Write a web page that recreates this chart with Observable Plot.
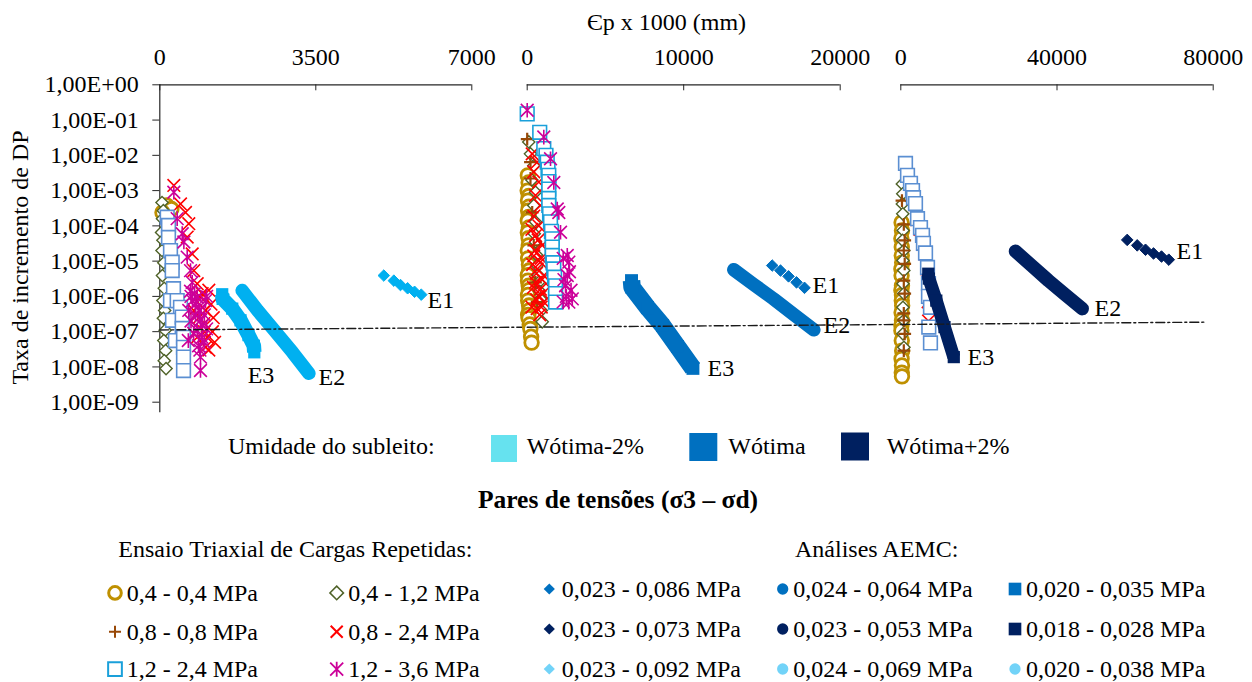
<!DOCTYPE html>
<html><head><meta charset="utf-8">
<script src="https://cdn.jsdelivr.net/npm/d3@7"></script>
<script src="https://cdn.jsdelivr.net/npm/@observablehq/plot@0.6"></script>
<style>
body{margin:0;background:#fff;}
#chart{position:relative;width:1252px;height:682px;overflow:hidden;background:#fff;font-family:"Liberation Serif",serif;}
#chart svg, #chart svg text{font-family:"Liberation Serif",serif !important;}
</style></head><body><div id="chart"></div>
<script>
const FONT = "Liberation Serif";
const AXIS = "#262626";

// ---------- axes ----------
const yTicks = [1, 1e-1, 1e-2, 1e-3, 1e-4, 1e-5, 1e-6, 1e-7, 1e-8, 1e-9];
const yTickLabels = ["1,00E+00","1,00E-01","1,00E-02","1,00E-03","1,00E-04","1,00E-05","1,00E-06","1,00E-07","1,00E-08","1,00E-09"];
const yAxisBottom = 5e-10;
const xTicks1 = [0, 3500, 7000];
const xTicks2 = [0, 10000, 20000];
const xTicks3 = [0, 40000, 80000];
const xTitle = "Єp x 1000 (mm)";
const yTitle = "Taxa de incremento de DP";

// ---------- Ensaio triaxial (x = Єp x 1000, y = taxa) ----------
// panel 1 : Wótima-2%
const p1_c04_04 = [[150,3.8e-4],[260,3.0e-4],[60,2.4e-4]];
const p1_d04_12 = [[50,4.6e-4],[80,2.7e-4],[60,1.6e-4],[40,6.5e-5],[70,3.9e-5],[50,2.0e-5],[90,9e-6],[60,3.9e-6],[100,1.7e-6],[70,7.6e-7],[110,4e-7],[80,2.4e-7],[120,1.1e-7],[90,5.6e-8],[130,2.9e-8],[100,1.5e-8],[140,9e-9]];
const p1_p08_08 = [];
const p1_x08_24 = [[315,1.4e-3],[465,4.2e-4],[577,2.4e-4],[651,1.15e-4],[615,4.8e-5],[727,1.6e-5],[763,5.4e-6],[839,2.3e-6],[950,1.2e-6],[1100,1.5e-6],[913,9.5e-7],[1150,6e-7],[960,5e-7],[763,4e-7],[1025,4e-7],[880,2.5e-7],[1200,2.5e-7],[700,2e-7],[987,1.7e-7],[1000,1e-7],[1180,1e-7],[839,6.9e-8],[1063,6.9e-8],[1230,5e-8],[1025,3.6e-8],[1100,3e-8]];
const p1_s12_24 = [[166,1.76e-4],[195,1.03e-4],[195,4.7e-5],[240,2e-5],[278,9.3e-6],[278,5.4e-6],[307,1.65e-6],[240,7.6e-7],[390,7.6e-7],[464,4.9e-7],[285,2.1e-7],[503,2.6e-7],[503,1.23e-7],[350,5.6e-8],[532,6.9e-8],[532,3.6e-8],[532,1.9e-8],[532,7.9e-9]];
const p1_a12_36 = [[315,9e-4],[390,1.6e-4],[503,6e-5],[540,3.5e-5],[615,1.3e-5],[689,5.4e-6],[727,2.5e-6],[689,1.4e-6],[780,1.2e-6],[700,1e-6],[1050,1e-6],[839,9.5e-7],[733,7.6e-7],[1025,7.6e-7],[800,6e-7],[875,4e-7],[650,4e-7],[900,4e-7],[800,3e-7],[1000,3e-7],[913,2.1e-7],[700,2e-7],[955,1.5e-7],[1050,1.2e-7],[839,1.08e-7],[760,9e-8],[950,6.9e-8],[640,5.6e-8],[1000,5e-8],[870,4e-8],[900,3e-8],[913,1.9e-8],[913,7.9e-9]];
// panel 2 : Wótima
const p2_c04_04 = [[40,2.7e-3],[90,1.7e-3],[30,1e-3],[100,7e-4],[50,5.2e-4],[110,3.5e-4],[60,2.7e-4],[100,1.8e-4],[40,1.4e-4],[110,9e-5],[40,6.5e-5],[90,4.5e-5],[100,2.8e-5],[40,2e-5],[60,1.2e-5],[110,8e-6],[120,5.4e-6],[40,4e-6],[50,2.8e-6],[100,2e-6],[110,1.5e-6],[50,1.1e-6],[60,7.6e-7],[120,5.5e-7],[130,4e-7],[60,3e-7],[90,2.4e-7],[160,1.6e-7],[200,1.2e-7],[250,7.2e-8],[280,4.9e-8]];
const p2_d04_12 = [[100,0.024],[210,0.011],[420,5.1e-3],[300,2e-3],[530,9e-4],[420,3.8e-4],[530,1.3e-4],[450,6e-5],[530,3.5e-5],[600,1.5e-5],[640,7.5e-6],[700,4e-6],[740,2.5e-6],[800,1.4e-6],[850,8.5e-7],[900,4e-7],[960,1.9e-7]];
const p2_p08_08 = [[0,0.029],[210,6.4e-3],[210,2.2e-3],[320,2.4e-4],[420,2.8e-5],[530,2.5e-6],[640,6.9e-7]];
const p2_x08_24 = [[320,0.011],[640,6.4e-3],[420,3.4e-3],[740,1.75e-3],[530,7.3e-4],[850,3.8e-4],[420,1.9e-4],[740,1e-4],[300,8e-5],[530,5.3e-5],[700,4e-5],[960,2.8e-5],[500,2e-5],[420,1.4e-5],[900,1.2e-5],[850,9.4e-6],[350,8e-6],[640,6e-6],[600,4.5e-6],[1060,3.9e-6],[950,3e-6],[530,2.5e-6],[400,1.8e-6],[850,1.6e-6],[1000,1.2e-6],[740,1.05e-6],[600,8e-7],[1060,6.9e-7],[900,5e-7],[300,5e-7],[640,4.5e-7],[800,3e-7]];
const p2_s12_24 = [[0,0.15],[800,0.045],[1060,0.0155],[1200,1e-2],[1280,6.4e-3],[1330,4e-3],[1380,2.7e-3],[1380,1.8e-3],[1380,1.1e-3],[1380,6e-4],[1380,3.8e-4],[1430,2.2e-4],[1490,1.3e-4],[1550,7e-5],[1600,4.3e-5],[1600,2.5e-5],[1600,1.45e-5],[1650,9e-6],[1700,6e-6],[1750,3.5e-6],[1810,2e-6],[1810,1.2e-6],[1810,6.9e-7]];
const p2_a12_36 = [[0,0.19],[1060,0.033],[1490,8e-3],[1700,1.7e-3],[1920,3e-4],[2020,2.4e-4],[2130,6.6e-5],[2560,1.45e-5],[2300,1.2e-5],[2660,9.4e-6],[2700,5e-6],[2560,3.9e-6],[2350,3e-6],[2450,2e-6],[2800,1.5e-6],[2500,1e-6],[2880,8.5e-7],[2660,6.9e-7],[2300,7e-7]];
// panel 3 : Wótima+2%
const p3_c04_04 = [[200,1.25e-4],[300,7.4e-5],[150,4.4e-5],[250,2.5e-5],[250,1.45e-5],[350,9.1e-6],[150,6e-6],[200,3.9e-6],[300,2e-6],[150,1.5e-6],[300,1.1e-6],[250,7.6e-7],[350,5.5e-7],[200,3.5e-7],[300,2.1e-7],[150,1.5e-7],[150,1.08e-7],[250,5.6e-8],[350,2.9e-8],[200,1.7e-8],[300,1.1e-8],[250,6.9e-9],[300,5.4e-9]];
const p3_d04_12 = [[400,1.55e-3],[500,8.1e-4],[400,4.2e-4],[500,2.2e-4],[600,7.4e-5],[450,3.9e-5],[770,2e-5],[550,1.05e-5],[770,5.4e-6],[550,2.3e-6],[770,1.2e-6],[550,4.9e-7],[770,2.1e-7],[550,8.7e-8],[800,3.6e-8]];
const p3_p08_08 = [[300,5.2e-4],[770,1.1e-4],[1000,3.9e-5],[770,2e-5],[1000,8.4e-6],[770,2.8e-6],[1000,1.2e-6],[770,3.3e-7],[770,2.1e-7],[1000,8.7e-8],[770,2.9e-8]];
const p3_x08_24 = [[1500,2.6e-3],[2300,1.5e-3],[2900,9e-4],[3600,4e-4],[4100,1.5e-4],[4900,8e-5],[5600,3e-5],[6200,1.6e-5],[6700,6e-6],[6900,2.2e-6],[7000,7e-7],[7100,2e-7],[7400,5e-8]];
const p3_s12_24 = [[1200,5.9e-3],[1720,2.7e-3],[2480,1.6e-3],[3000,1e-3],[3250,6.3e-4],[3760,4.3e-4],[4280,1.6e-4],[5040,8.9e-5],[5560,5.4e-5],[5800,3.2e-5],[6330,1.7e-5],[6840,6.6e-6],[7090,2.3e-6],[7090,1e-6],[7600,4.9e-7],[7170,1.35e-7],[7600,4.8e-8]];
const p3_a12_36 = [];

// ---------- Análises AEMC ----------
const p1_E1 = [[5026,3.9e-6],[5251,2.8e-6],[5400,2.1e-6],[5560,1.7e-6],[5716,1.35e-6],[5866,1.12e-6]];
const p1_E2 = [[1848,1.47e-6],[2193,4e-7],[2572,1.08e-7],[2978,2.6e-8],[3345,6.6e-9]];
const p1_E3 = [[1400,1.15e-6],[1410,8.5e-7],[1625,4.5e-7],[1811,2.1e-7],[1990,8e-8],[2110,4e-8],[2120,2.6e-8]];
const p2_E1 = [[15655,7.5e-6],[16185,5.4e-6],[16700,3.7e-6],[17210,2.5e-6],[17720,1.75e-6]];
const p2_E2 = [[13200,5.7e-6],[14460,2.2e-6],[15740,8.5e-7],[17020,3.1e-7],[18315,1.13e-7]];
const p2_E3 = [[6665,2.8e-6],[6700,1.8e-6],[7690,4.8e-7],[8645,1.5e-7],[9600,3.8e-8],[10590,9.1e-9]];
const p3_E1 = [[57980,4.0e-5],[60540,2.8e-5],[62670,2.1e-5],[64720,1.65e-5],[66760,1.35e-5],[68630,1.1e-5]];
const p3_E2 = [[29370,1.9e-5],[33470,7.5e-6],[37820,2.8e-6],[42180,1.1e-6],[46450,4.5e-7]];
const p3_E3 = [[7040,4.4e-6],[7200,3.2e-6],[9090,7.6e-7],[11190,1.35e-7],[13570,1.9e-8]];

// E labels [text, x, y]
const p1_labels = [["E1",6006,7.6e-7],["E2",3560,5e-9],["E3",1972,5.7e-9]];
const p2_labels = [["E1",18230,2e-6],["E2",18935,1.5e-7],["E3",11520,9.1e-9]];
const p3_labels = [["E1",70600,1.9e-5],["E2",49600,4.6e-7],["E3",17080,1.85e-8]];

// dash-dot reference line
const p1_ref = [[0,1.12e-7],[8250,1.34e-7]];
const p2_ref = [[0,1.34e-7],[23850,1.6e-7]];
const p3_ref = [[0,1.6e-7],[77700,1.86e-7]];

// ---------- legend texts ----------
const umidTitle = "Umidade do subleito:";
const umidLabels = ["Wótima-2%","Wótima","Wótima+2%"];
const paresTitle = "Pares de tensões (σ3 – σd)";
const triTitle = "Ensaio Triaxial de Cargas Repetidas:";
const triLabels = ["0,4 - 0,4 MPa","0,4 - 1,2 MPa","0,8 - 0,8 MPa","0,8 - 2,4 MPa","1,2 - 2,4 MPa","1,2 - 3,6 MPa"];
const aemcTitle = "Análises AEMC:";
const aemcLabels = ["0,023 - 0,086 MPa","0,024 - 0,064 MPa","0,020 - 0,035 MPa","0,023 - 0,073 MPa","0,023 - 0,053 MPa","0,018 - 0,028 MPa","0,023 - 0,092 MPa","0,024 - 0,069 MPa","0,020 - 0,038 MPa"];

// ---------- styles ----------
const starSymbol = {draw(ctx, size){const r=Math.sqrt(size)*0.62;ctx.moveTo(-r,-r);ctx.lineTo(r,r);ctx.moveTo(-r,r);ctx.lineTo(r,-r);ctx.moveTo(0,-r*1.15);ctx.lineTo(0,r*1.15);}};
const triSym = [
  {symbol:"circle", color:"#BF9000", r:6.8, sw:2.8, fill:"white"},
  {symbol:"diamond2", color:"#4F6228", r:5.5, sw:1.4, fill:"white"},
  {symbol:"plus", color:"#984807", r:4.2, sw:2.2, fill:"none"},
  {symbol:"times", color:"#FF0000", r:5.8, sw:1.6, fill:"none"},
  {symbol:"square2", color:null, r:8.7, sw:1.6, fill:"white"},
  {symbol:starSymbol, color:"#CC0099", r:5.8, sw:1.6, fill:"none"}
];
const umidColors = ["#66E2EF","#0070C0","#002060"];
const chart = document.getElementById("chart");
const px = d => d[0], py = d => d[1];

function drawPanel(c){
  const marks = [];
  marks.push(Plot.ruleY([1], {stroke:AXIS, strokeWidth:1.2}));
  marks.push(Plot.axisX(c.xTicks, {anchor:"top", tickSize:6, dy:5, fill:"none", stroke:AXIS, label:null}));
  marks.push(Plot.axisX(c.xTicks, {anchor:"top", tickSize:0, tickPadding:20, tickFormat:d=>String(d), fill:"#000", fontSize:24, fontFamily:FONT, label:null}));
  if (c.yAxis){
    marks.push(Plot.ruleX([0], {y1:1, y2:yAxisBottom, stroke:AXIS, strokeWidth:1.2}));
    marks.push(Plot.axisY(yTicks, {anchor:"left", tickSize:7, tickPadding:14, tickFormat:d=>yTickLabels[yTicks.indexOf(d)], stroke:AXIS, fill:"#000", fontSize:24, fontFamily:FONT, label:null}));
  }
  c.tri.forEach((arr,i)=>{
    const s = triSym[i];
    if (arr.length) marks.push(Plot.dot(arr, {x:px, y:py, symbol:s.symbol, r:s.r, stroke:s.color||c.sqColor, strokeWidth:s.sw, fill:s.fill}));
  });
  marks.push(Plot.line(c.E3, {x:px, y:py, stroke:c.aemcColor, strokeWidth:c.e3w, strokeLinecap:"butt"}));
  marks.push(Plot.dot(c.E3, {x:px, y:py, symbol:"square", r:c.e3r, fill:c.aemcColor, stroke:"none"}));
  marks.push(Plot.line(c.E2, {x:px, y:py, stroke:c.aemcColor, strokeWidth:13.5, strokeLinecap:"round", strokeLinejoin:"round"}));
  marks.push(Plot.dot(c.E1, {x:px, y:py, symbol:"diamond2", r:5.2, fill:c.aemcColor, stroke:c.aemcColor, strokeWidth:1}));
  marks.push(Plot.text(c.labels, {x:d=>d[1], y:d=>d[2], text:d=>d[0], textAnchor:"start", fontSize:24, fontFamily:FONT, fill:"#000"}));
  marks.push(Plot.line(c.ref, {x:px, y:py, stroke:"#1a1a1a", strokeWidth:1.4, strokeDasharray:"9,3,2,3"}));
  const svg = Plot.plot({
    width:c.width, height:420, marginTop:84.3, marginBottom:18.3, marginLeft:c.mL, marginRight:c.mR,
    x:{domain:c.xDomain, axis:null}, y:{type:"log", domain:[1e-9,1], axis:null},
    style:{fontFamily:FONT, fontSize:"24px", overflow:"visible", background:"transparent", color:"#000"},
    marks
  });
  svg.style.position="absolute"; svg.style.left=c.left+"px"; svg.style.top="0px";
  chart.appendChild(svg);
}

drawPanel({left:0, width:500, mL:159.3, mR:28.7, xDomain:[0,7000], xTicks:xTicks1, yAxis:true,
  tri:[p1_c04_04,p1_d04_12,p1_p08_08,p1_x08_24,p1_s12_24,p1_a12_36], sqColor:"#5B8FD2", aemcColor:"#00B0F0",
  E1:p1_E1, E2:p1_E2, E3:p1_E3, e3w:14.5, e3r:6.9, labels:p1_labels, ref:p1_ref});
drawPanel({left:500, width:360, mL:26.7, mR:20.3, xDomain:[0,20000], xTicks:xTicks2, yAxis:false,
  tri:[p2_c04_04,p2_d04_12,p2_p08_08,p2_x08_24,p2_s12_24,p2_a12_36], sqColor:"#1AA0DA", aemcColor:"#0070C0",
  E1:p2_E1, E2:p2_E2, E3:p2_E3, e3w:17.5, e3r:7.3, labels:p2_labels, ref:p2_ref});
drawPanel({left:870, width:382, mL:30.3, mR:39.3, xDomain:[0,80000], xTicks:xTicks3, yAxis:false,
  tri:[p3_c04_04,p3_d04_12,p3_p08_08,p3_x08_24,p3_s12_24,p3_a12_36], sqColor:"#5B8FD2", aemcColor:"#002060",
  E1:p3_E1, E2:p3_E2, E3:p3_E3, e3w:13, e3r:6.9, labels:p3_labels, ref:p3_ref});

// ---------- titles & legends ----------
const L = d3.create("svg").attr("width",1252).attr("height",682)
  .style("position","absolute").style("left","0px").style("top","0px").style("overflow","visible")
  .attr("font-family",FONT).attr("font-size",24).attr("fill","#000");
L.append("text").attr("x",666.5).attr("y",30).attr("text-anchor","middle").text(xTitle);
L.append("text").attr("transform","translate(28.3,257.5) rotate(-90)").attr("text-anchor","middle").text(yTitle);

L.append("text").attr("x",228).attr("y",454).text(umidTitle);
const umidSw = [[491,435,26,27],[689.3,433,28,28],[841,432.5,28,28]];
const umidTx = [526.7,728.3,886.7];
umidLabels.forEach((t,i)=>{
  L.append("rect").attr("x",umidSw[i][0]).attr("y",umidSw[i][1]).attr("width",umidSw[i][2]).attr("height",umidSw[i][3]).attr("fill",umidColors[i]);
  L.append("text").attr("x",umidTx[i]).attr("y",453.5).text(t);
});
L.append("text").attr("x",618).attr("y",508).attr("text-anchor","middle").attr("font-weight","bold").attr("font-size",25.5).text(paresTitle);

L.append("text").attr("x",118.3).attr("y",556.7).text(triTitle);
L.append("text").attr("x",795).attr("y",556.7).text(aemcTitle);

const symPath = (type,size)=>d3.symbol(type,size)();
const triLeg = [
  {t:d3.symbolCircle, size:125, stroke:"#BF9000", sw:3, fill:"none"},
  {t:d3.symbolDiamond2, size:118, stroke:"#4F6228", sw:1.5, fill:"none"},
  {t:d3.symbolPlus, size:49, stroke:"#984807", sw:2, fill:"none"},
  {t:d3.symbolTimes, size:96, stroke:"#FF0000", sw:2, fill:"none"},
  {t:d3.symbolSquare2, size:240, stroke:"#1AA0DA", sw:2, fill:"none"},
  {t:starSymbol, size:110, stroke:"#CC0099", sw:1.8, fill:"none"}
];
const triBase = [600.7,639.5,677];
triLabels.forEach((t,i)=>{
  const row = Math.floor(i/2), col = i%2;
  const sx = col ? 336.7 : 115, tx = col ? 348.3 : 126.7, b = triBase[row];
  const s = triLeg[i];
  L.append("path").attr("d",symPath(s.t,s.size)).attr("transform",`translate(${sx},${b-7.8})`)
    .attr("fill",s.fill).attr("stroke",s.stroke).attr("stroke-width",s.sw);
  L.append("text").attr("x",tx).attr("y",b).text(t);
});
const aemcLegColors = ["#0070C0","#0070C0","#0070C0","#002060","#002060","#002060","#72D3F8","#72D3F8","#72D3F8"];
const aemcLegSym = [d3.symbolDiamond2,d3.symbolCircle,d3.symbolSquare,d3.symbolDiamond2,d3.symbolCircle,d3.symbolSquare,d3.symbolDiamond2,d3.symbolCircle,d3.symbolCircle];
const aemcLegSize = s => s===d3.symbolDiamond2 ? 80 : s===d3.symbolCircle ? 100 : 160;
const aemcBase = [596.7,636.7,676.7];
aemcLabels.forEach((t,i)=>{
  const row = Math.floor(i/3), col = i%3;
  const sx = [549.3,782.7,1015][col], tx = [561.7,793.3,1026][col], b = aemcBase[row];
  const s = aemcLegSym[i];
  L.append("path").attr("d",symPath(s,aemcLegSize(s))).attr("transform",`translate(${sx},${b-7.7})`).attr("fill",aemcLegColors[i]);
  L.append("text").attr("x",tx).attr("y",b).text(t);
});
chart.appendChild(L.node());
</script></body></html>
